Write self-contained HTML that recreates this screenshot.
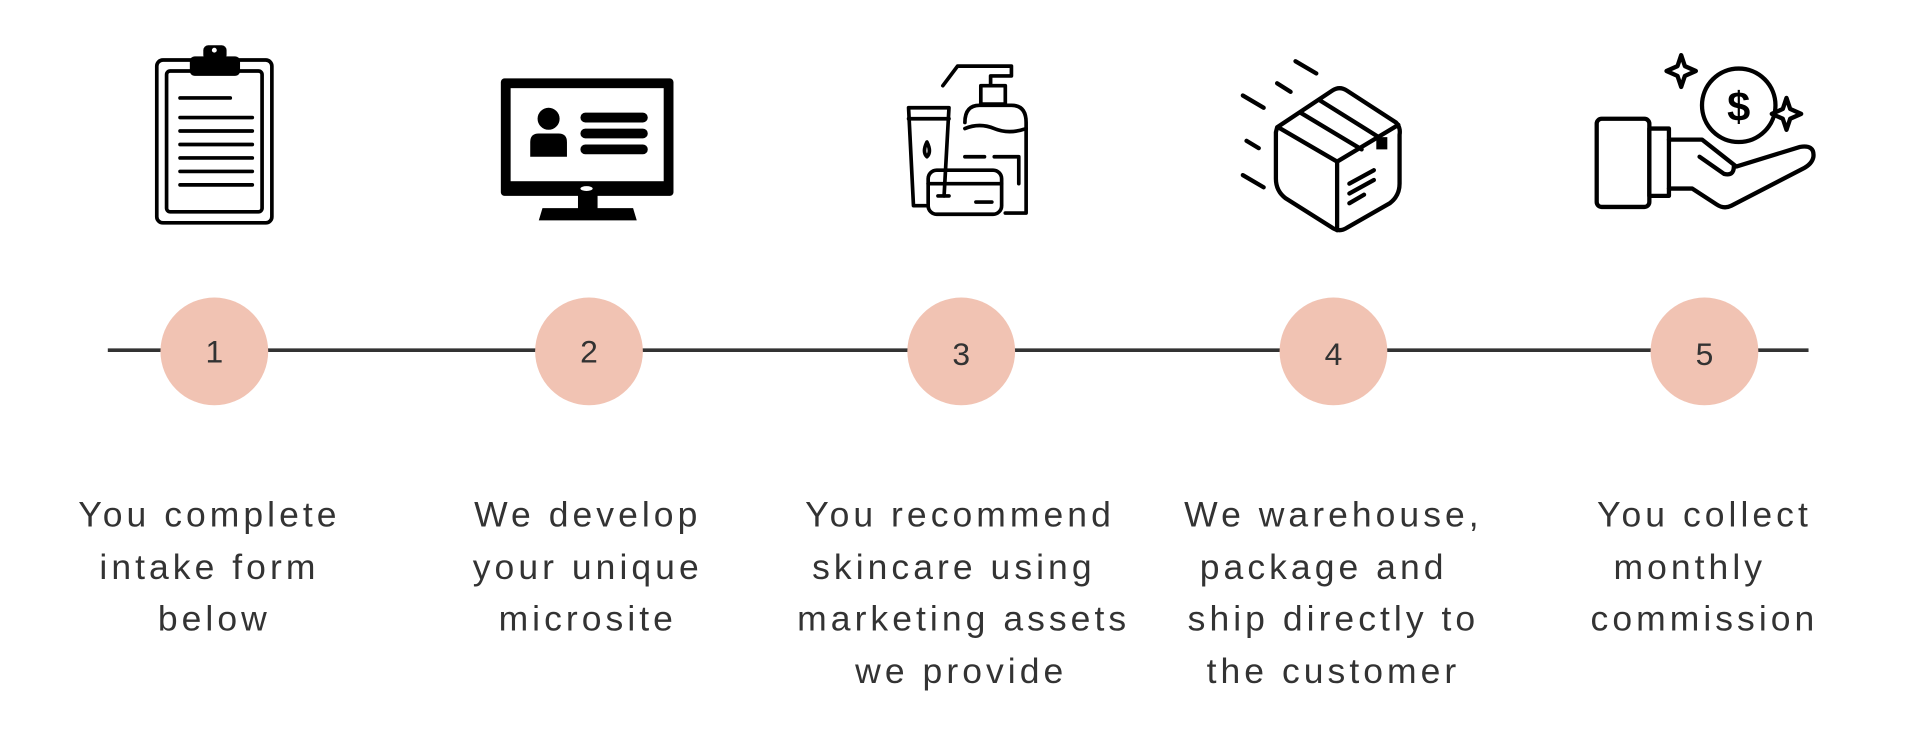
<!DOCTYPE html>
<html><head><meta charset="utf-8"><style>
html,body{margin:0;padding:0;background:#fff;}
svg{display:block;}
text{font-family:"Liberation Sans",sans-serif;fill:#333;}
</style></head><body>
<svg width="1920" height="754" viewBox="0 0 1568 615.8" xmlns="http://www.w3.org/2000/svg">
<rect width="1568" height="616" fill="#fff"/>
<line x1="88" y1="286" x2="1477" y2="286" stroke="#333" stroke-width="3"/>
<g fill="#f1c3b3">
<circle cx="175" cy="287" r="44"/><circle cx="481" cy="287" r="44"/><circle cx="785" cy="287" r="44"/><circle cx="1089" cy="287" r="44"/><circle cx="1392" cy="287" r="44"/>
</g>
<g font-size="26" text-anchor="middle">
<text x="175" y="296">1</text><text x="481" y="296">2</text><text x="785" y="298">3</text><text x="1089" y="298">4</text><text x="1392" y="298">5</text>
</g>
<g font-size="29" text-anchor="middle" letter-spacing="3.3">
<text x="171" y="430">You complete</text><text x="171" y="473">intake form</text><text x="175" y="515">below</text>
<text x="480" y="430">We develop</text><text x="480" y="473">your unique</text><text x="480" y="515">microsite</text>
<text x="784" y="430">You recommend</text><text x="779" y="473">skincare using</text><text x="787" y="515">marketing assets</text><text x="785" y="558">we provide</text>
<text x="1089" y="430">We warehouse,</text><text x="1081" y="473">package and</text><text x="1089" y="515">ship directly to</text><text x="1089" y="558">the customer</text>
<text x="1392" y="430">You collect</text><text x="1380" y="473">monthly</text><text x="1392" y="515">commission</text>
</g>
<!-- icon 1 clipboard -->
<g stroke="#000" stroke-width="3" fill="none" stroke-linecap="round">
<rect x="128" y="49" width="94" height="133" rx="5"/>
<rect x="136" y="58" width="78" height="115" rx="3"/>
<line x1="147" y1="80" x2="188" y2="80"/>
<line x1="147" y1="96" x2="206" y2="96"/><line x1="147" y1="107" x2="206" y2="107"/><line x1="147" y1="118" x2="206" y2="118"/><line x1="147" y1="129" x2="206" y2="129"/><line x1="147" y1="140" x2="206" y2="140"/><line x1="147" y1="151" x2="206" y2="151"/>
</g>
<rect x="155" y="46" width="41" height="16" rx="4" fill="#000"/>
<rect x="166" y="37" width="19" height="12" rx="4" fill="#000"/>
<circle cx="175" cy="41" r="2" fill="#fff"/>
<!-- icon 2 monitor -->
<rect x="409" y="64" width="141" height="96" rx="3" fill="#000"/>
<rect x="417" y="72" width="125" height="76" fill="#fff"/>
<rect x="472" y="158" width="16" height="14" fill="#000"/>
<path d="M443 170 H517 L520 180 H440 Z" fill="#000"/>
<ellipse cx="479" cy="154" rx="5" ry="2" fill="#fff"/>
<circle cx="448" cy="97" r="9" fill="#000"/>
<path d="M433 128 V116 Q433 109 440 109 H456 Q463 109 463 116 V128 Z" fill="#000"/>
<g fill="#000"><rect x="474" y="92" width="55" height="8" rx="4"/><rect x="474" y="105" width="55" height="8" rx="4"/><rect x="474" y="118" width="55" height="8" rx="4"/></g>
<!-- icon 3 skincare -->
<g stroke="#000" stroke-width="3" fill="none" stroke-linejoin="round" stroke-linecap="round">
<path d="M770 70 L782 54 H826 V62 H809 V70"/>
<rect x="801" y="70" width="20" height="15"/>
<path d="M788 100 Q788 86 800 86 H826 Q838 86 838 100 V174 H821"/>
<path d="M788 105 Q800 100 812 105 T838 105"/>
<path d="M788 128 H804 M812 128 H832 V150"/>
<path d="M742 88 H775 L771 160 M742 88 L746 168 H756"/>
<line x1="742" y1="97" x2="775" y2="97"/>
<path d="M757 116 Q753 124 757 128 Q761 124 757 116 Z"/>
<rect x="758" y="139" width="60" height="36" rx="7"/>
<line x1="758" y1="150" x2="818" y2="150"/>
<line x1="766" y1="160" x2="775" y2="160"/><line x1="797" y1="165" x2="810" y2="165"/>
</g>
<!-- icon 4 box -->
<g stroke="#000" stroke-width="3.5" fill="none" stroke-linejoin="round" stroke-linecap="round">
<path d="M1043 104 L1088 74 Q1094 70 1100 74 L1140 100 Q1144 104 1143 110 V150 Q1143 160 1135 166 L1100 186 Q1094 190 1088 186 L1050 162 Q1042 156 1042 146 V108 Z"/>
<path d="M1044 104 L1092 132 L1142 102"/>
<line x1="1092" y1="132" x2="1092" y2="188"/>
<path d="M1062 92 L1112 122 M1078 82 L1126 112"/>
<line x1="1102" y1="150" x2="1122" y2="139"/><line x1="1102" y1="158" x2="1122" y2="147"/><line x1="1102" y1="166" x2="1114" y2="159"/>
<line x1="1058" y1="50" x2="1075" y2="60"/><line x1="1043" y1="68" x2="1054" y2="75"/><line x1="1015" y1="78" x2="1032" y2="88"/><line x1="1018" y1="115" x2="1028" y2="121"/><line x1="1015" y1="143" x2="1032" y2="153"/>
</g>
<rect x="1124" y="112" width="9" height="10" fill="#000"/>
<!-- icon 5 hand coin -->
<g stroke="#000" stroke-width="3.5" fill="none" stroke-linejoin="round" stroke-linecap="round">
<circle cx="1420" cy="86" r="30"/>
<rect x="1304" y="97" width="43" height="72" rx="4"/>
<rect x="1347" y="105" width="16" height="55"/>
<path d="M1363 114 H1390 L1418 136 L1470 120 Q1482 118 1481 128 Q1480 134 1472 138 L1414 168 Q1408 171 1402 167 L1382 154 H1363"/>
<path d="M1388 128 L1408 142 Q1416 144 1416 136"/>
<path d="M1373 45 L1376 54 L1385 58 L1376 62 L1373 71 L1370 62 L1361 58 L1370 54 Z"/>
<path d="M1459 80 L1462 89 L1471 93 L1462 97 L1459 106 L1456 97 L1447 93 L1456 89 Z"/>
</g>
<text x="1420" y="99" font-size="34" text-anchor="middle" style="fill:#000;font-weight:bold">$</text>
</svg>
</body></html>
